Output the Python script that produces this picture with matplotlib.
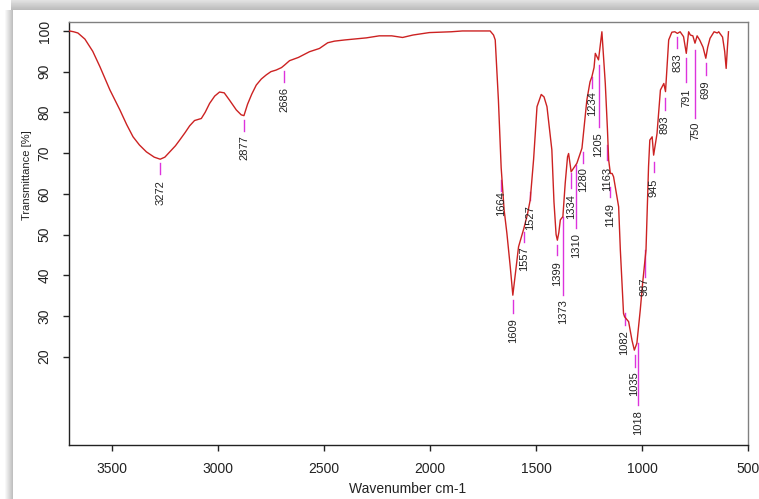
import numpy as np
import matplotlib
matplotlib.use("Agg")
import matplotlib.pyplot as plt

plt.rcParams['font.family'] = ['Liberation Sans', 'DejaVu Sans']

# ---- spectrum (wavenumber cm-1, transmittance %) ----
wavenumber = [3700, 3680, 3660, 3627, 3590, 3556, 3509, 3462, 3430, 3400, 3370, 3337,
              3300, 3272, 3250, 3227, 3200, 3180, 3155, 3133, 3110, 3078, 3060, 3039,
              3015, 2992, 2970, 2945, 2913, 2890, 2877, 2860, 2840, 2819, 2795, 2772,
              2750, 2725, 2700, 2686, 2662, 2620, 2568, 2521, 2482, 2450, 2400, 2300,
              2239, 2180, 2129, 2080, 2003, 1900, 1847, 1780, 1716, 1700, 1692, 1677,
              1664, 1650, 1637, 1621, 1609, 1600, 1590, 1582, 1566, 1557, 1540, 1527,
              1511, 1495, 1475, 1462, 1448, 1425, 1415, 1405, 1399, 1392, 1385, 1373,
              1362, 1351, 1346, 1334, 1320, 1307, 1283, 1276, 1260, 1245, 1236, 1226,
              1220, 1205, 1189, 1173, 1163, 1157, 1149, 1141, 1134, 1110, 1102, 1087,
              1082, 1063, 1047, 1036, 1024, 1008, 997, 989, 981, 976, 969, 963,
              952, 945, 929, 913, 897, 889, 874, 859, 845, 833, 820, 804,
              791, 780, 772, 760, 750, 740, 728, 712, 699, 690, 679, 660,
              645, 638, 634, 620, 610, 603, 597, 592]
transmittance = [100.0, 99.8, 99.5, 98.0, 95.0, 91.2, 85.5, 80.6, 77.0, 74.0, 72.0, 70.3,
                 69.0, 68.5, 69.0, 70.3, 71.8, 73.2, 75.0, 76.7, 78.0, 78.5, 80.0, 82.2,
                 84.0, 85.0, 84.8, 83.0, 80.6, 79.4, 79.2, 82.0, 84.5, 86.7, 88.2, 89.2,
                 90.0, 90.4, 91.0, 91.6, 92.7, 93.5, 94.9, 95.7, 97.1, 97.5, 97.8, 98.3,
                 98.8, 98.8, 98.4, 99.0, 99.6, 99.8, 100.0, 100.0, 100.0, 99.0, 97.8, 83.0,
                 66.4, 56.0, 50.3, 42.0, 35.1, 39.0, 43.5, 47.0, 49.9, 51.5, 55.0, 58.5,
                 68.5, 81.4, 84.4, 83.8, 81.4, 70.8, 58.0, 50.0, 48.6, 50.5, 53.6, 54.4,
                 62.6, 69.1, 69.9, 65.4, 66.5, 67.5, 71.2, 74.8, 83.0, 87.5, 88.8, 91.0,
                 94.5, 92.9, 99.8, 87.1, 76.0, 68.3, 65.0, 65.0, 64.2, 56.8, 46.2, 30.6,
                 29.8, 28.6, 24.0, 21.6, 23.3, 31.5, 38.0, 42.0, 46.2, 54.4, 66.7, 73.2,
                 74.0, 69.5, 74.8, 85.5, 87.1, 85.1, 97.8, 99.7, 99.8, 99.4, 99.8, 98.6,
                 94.5, 99.8, 99.0, 98.8, 97.0, 98.8, 97.8, 96.0, 93.3, 96.0, 98.2, 99.8,
                 99.5, 99.8, 99.5, 98.5, 95.0, 90.8, 96.0, 99.8]

# ---- peak annotations ----
peak_labels = [3272, 2877, 2686, 1664, 1609, 1557, 1527, 1399, 1373, 1334, 1310, 1280,
               1234, 1205, 1163, 1149, 1082, 1035, 1018, 987, 945, 893, 833, 791, 750, 699]
tick_top = [67.6, 78.1, 90.2, 63.5, 33.9, 50.6, 60.4, 47.4, 54.3, 65.1, 67.1, 70.3,
            88.7, 91.6, 72.0, 61.7, 30.7, 20.4, 23.3, 46.2, 67.8, 83.5, 98.5, 93.4, 95.3, 92.1]
tick_bottom = [64.9, 75.4, 87.5, 60.8, 30.7, 48.2, 58.5, 45.0, 35.1, 61.4, 51.6, 67.6,
               86.0, 76.4, 68.3, 59.2, 27.8, 17.4, 8.1, 39.6, 65.4, 80.6, 95.8, 87.5, 78.6, 89.2]
label_pos = [60.3, 71.3, 83.2, 57.5, 26.5, 44.1, 54.1, 40.4, 31.1, 56.9, 47.4, 63.6,
             82.2, 72.0, 63.6, 54.9, 23.5, 13.4, 3.8, 37.2, 61.5, 77.1, 92.1, 83.7, 75.4, 85.5]

x_ticks = [3500, 3000, 2500, 2000, 1500, 1000, 500]
y_ticks = [20, 30, 40, 50, 60, 70, 80, 90, 100]

W, H = 759, 499
fig = plt.figure(figsize=(W / 100, H / 100), dpi=100)

# background: screenshot panel with soft shadow
bg = np.ones((H, W))
px0, py0 = 13, 10
for y in range(py0):
    bg[y, px0 - 2:] = 0.88 - 0.16 * (y / py0)
for x in range(px0):
    t = max(0.0, (x - 4) / (px0 - 4))
    bg[py0:, x] = 1.0 - 0.28 * t
bg[:py0, :px0 - 2] = 1.0
bax = fig.add_axes([0, 0, 1, 1])
bax.imshow(bg, cmap='gray', vmin=0, vmax=1, aspect='auto', interpolation='bilinear')
bax.axis('off')

ax = fig.add_axes([69 / W, 1 - 445 / H, (748 - 69) / W, (445 - 22) / H])
ax.plot(wavenumber, transmittance, color='#cc2222', lw=1.0, zorder=3)

for wn, t0, t1, lp in zip(peak_labels, tick_top, tick_bottom, label_pos):
    ax.plot([wn, wn], [t1, t0], color='#dd33dd', lw=1.0, zorder=2)
    ax.text(wn, lp, str(wn), rotation=90, ha='center', va='center',
            fontsize=8, color='#222222', zorder=4)

ax.set_xlim(3702, 500)
ax.set_ylim(-1.7, 102.2)
ax.set_xticks(x_ticks)
ax.set_xticklabels([str(v) for v in x_ticks])
ax.set_yticks(y_ticks)
ax.set_yticklabels([str(v) for v in y_ticks], rotation=90, va='center')
ax.tick_params(axis='both', direction='out', length=4.5, width=1, colors='#222222',
               labelsize=10, labelcolor='#222222')
ax.tick_params(axis='x', pad=8)
ax.tick_params(axis='y', pad=8)
for s in ['left', 'bottom']:
    ax.spines[s].set_color('#222222')
for s in ['top', 'right']:
    ax.spines[s].set_color('#808080')
for s in ax.spines.values():
    s.set_linewidth(1.0)
ax.set_facecolor('white')

fig.text(407.5 / W, 1 - 489 / H, 'Wavenumber cm-1', ha='center', va='center',
         fontsize=10, color='#222222')
fig.text(27.5 / W, 1 - 175 / H, 'Transmittance [%]', ha='center', va='center',
         rotation=90, fontsize=8, color='#222222')

fig.savefig('out.png', dpi=100)
